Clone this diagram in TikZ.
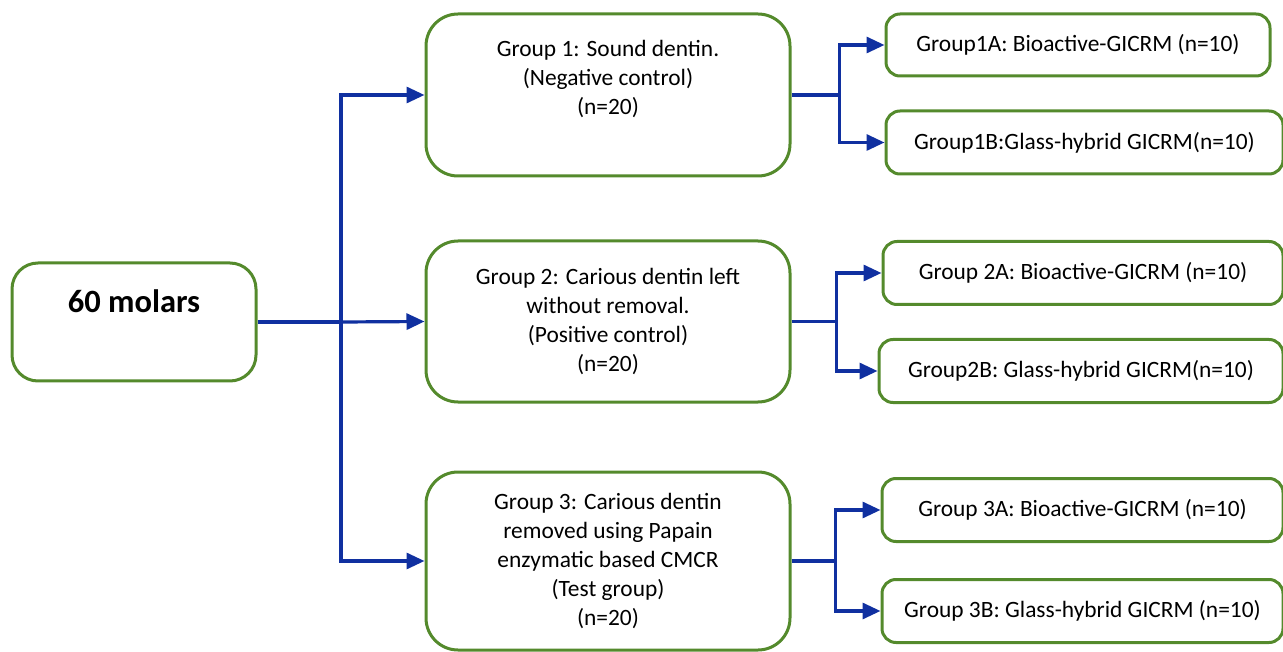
\documentclass[tikz,border=0pt]{standalone}
\usepackage{fontspec}
\setmainfont{Carlito}
\usetikzlibrary{arrows.meta,positioning}
\definecolor{boxgreen}{RGB}{84,138,44}
\definecolor{linkblue}{RGB}{16,48,160}

\begin{document}
\begin{tikzpicture}[x=1pt, y=-1pt,
  >={Triangle[length=18pt,width=16pt]},
  box/.style={draw=boxgreen, line width=3pt, fill=white, align=center,
              font=\fontsize{23.4}{28.8}\selectfont, inner sep=0pt},
  grp/.style={box, rounded corners=32pt, minimum width=364pt},
  sub/.style={box, rounded corners=14pt, minimum height=63pt},
  dep/.style={->, line width=3.2pt, linkblue}
]
\useasboundingbox (0,0) rectangle (1283,652);

% start box
\node[box, rounded corners=26pt, minimum width=244pt, minimum height=118pt,
      font=\fontsize{32.5}{36}\bfseries] (mol) at (134,322) {60 molars\\[6pt] \mbox{}};

% middle column
\node[grp, minimum height=162pt] (g1) at (608,95)
  {Group 1: Sound dentin.\\(Negative control)\\(n=20)\\[6pt] \mbox{}};
\node[grp, minimum height=161pt] (g2) at (608,321.5)
  {Group 2: Carious dentin left\\without removal.\\(Positive control)\\(n=20)};
\node[grp, minimum height=178pt] (g3) at (608,561)
  {Group 3: Carious dentin\\removed using Papain\\enzymatic based CMCR\\(Test group)\\(n=20)};

% right column
\node[sub, minimum width=384pt, minimum height=62pt] (g1a) at (1078,45) {Group1A: Bioactive-GICRM (n=10)};
\node[sub, minimum width=397pt] (g1b) at (1084.5,142.5) {Group1B:Glass-hybrid GICRM(n=10)};
\node[sub, minimum width=400pt] (g2a) at (1083,273) {Group 2A: Bioactive-GICRM (n=10)};
\node[sub, minimum width=404pt] (g2b) at (1081,371) {Group2B: Glass-hybrid GICRM(n=10)};
\node[sub, minimum width=401pt] (g3a) at (1082.5,510) {Group 3A: Bioactive-GICRM (n=10)};
\node[sub, minimum width=401pt] (g3b) at (1082.5,611) {Group 3B: Glass-hybrid GICRM (n=10)};

% connectors
\coordinate (trunk) at (341,322);
\draw[dep, -] (mol.east) -- (trunk);
\draw[dep] (trunk) |- (g1.west);
\draw[dep] (trunk) -- (g2.west);
\draw[dep] (trunk) |- (g3.west);

\draw[dep, -] (g1.east) -- ++(48,0) coordinate (s1);
\draw[dep] (s1) |- (g1a.west);
\draw[dep] (s1) |- (g1b.west);

\draw[dep, -] (g2.east) -- ++(45,0) coordinate (s2);
\draw[dep] (s2) |- (g2a.west);
\draw[dep] (s2) |- (g2b.west);

\draw[dep, -] (g3.east) -- ++(44,0) coordinate (s3);
\draw[dep] (s3) |- (g3a.west);
\draw[dep] (s3) |- (g3b.west);
\end{tikzpicture}
\end{document}
